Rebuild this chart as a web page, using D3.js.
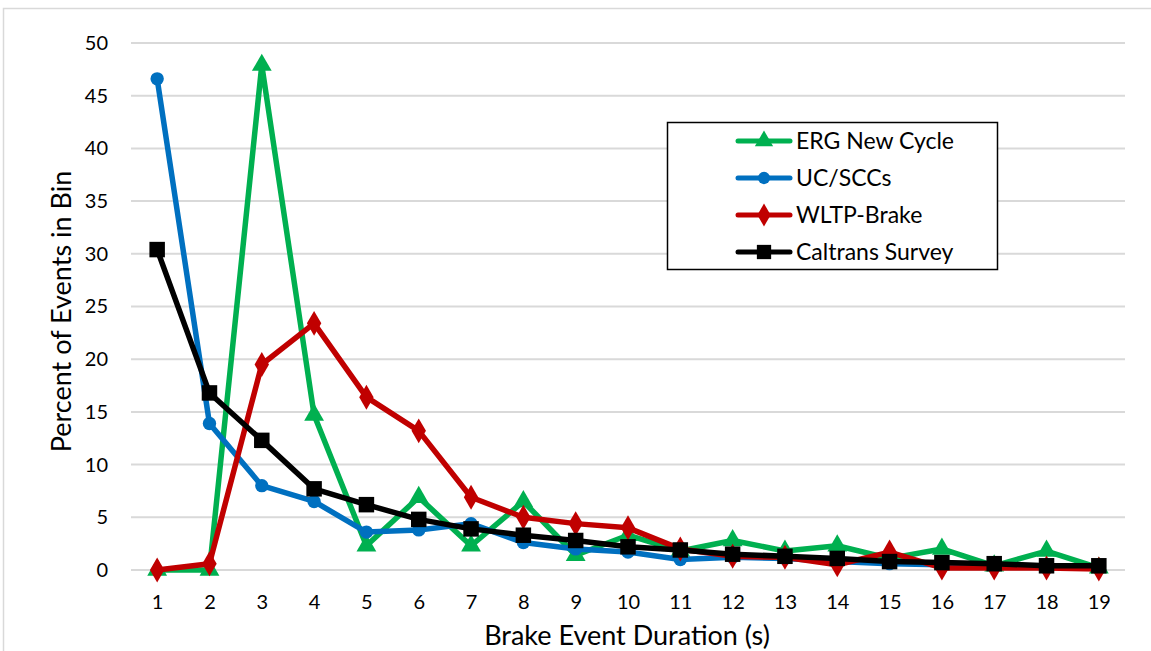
<!DOCTYPE html>
<html><head><meta charset="utf-8">
<script src="https://cdn.jsdelivr.net/npm/d3@7"></script>
<style>body{margin:0;background:#fff;}svg{display:block;font-family:Lato,"Open Sans",sans-serif;}</style>
</head><body><svg id="c" width="1151" height="651"></svg>
<script>
const categories = [1,2,3,4,5,6,7,8,9,10,11,12,13,14,15,16,17,18,19];
const ergNewCycle = [0,0,47.9,14.7,2.3,6.9,2.3,6.5,1.4,3.3,1.8,2.8,1.8,2.3,1.1,2.0,0.4,1.8,0.2];
const ucSCCs      = [46.6,13.9,8.0,6.5,3.6,3.8,4.4,2.6,2.0,1.7,1.0,1.2,1.1,0.8,0.6,0.5,0.4,0.3,0.3];
const wltpBrake   = [0,0.6,19.5,23.4,16.4,13.2,6.9,5.0,4.4,4.0,2.0,1.3,1.2,0.5,1.7,0.2,0.2,0.2,0.1];
const caltrans    = [30.4,16.8,12.3,7.7,6.2,4.8,3.9,3.3,2.8,2.2,1.9,1.5,1.3,1.1,0.8,0.7,0.6,0.4,0.4];
const yTicks = [0,5,10,15,20,25,30,35,40,45,50];
const seriesNames = ["ERG New Cycle","UC/SCCs","WLTP-Brake","Caltrans Survey"];
const seriesColors = ["#00b050","#0070c0","#c00000","#000000"];
const seriesSymbols = [d3.symbolTriangle, d3.symbolCircle, d3.symbolDiamond, d3.symbolSquare];
const seriesData = [ergNewCycle, ucSCCs, wltpBrake, caltrans];
const symbolSizes = [170,140,180,240];

const svg = d3.select("#c");
svg.append("path").attr("d","M3.5,651 V8.5 H1151").attr("fill","none").attr("stroke","#d9d9d9").attr("stroke-width",1.5);

const pL=131,pR=1125,pT=43,pB=570;
const x = d3.scalePoint().domain(categories).range([pL,pR]).padding(0.5);
const y = d3.scaleLinear().domain([0,50]).range([pB,pT]);

svg.append("g").selectAll("line").data(yTicks).join("line")
  .attr("x1",pL).attr("x2",pR).attr("y1",d=>y(d)).attr("y2",d=>y(d))
  .attr("stroke","#d9d9d9").attr("stroke-width",2);

const ya = svg.append("g").attr("transform",`translate(${pL},0)`)
  .call(d3.axisLeft(y).tickValues(yTicks).tickSize(0).tickPadding(23));
ya.select(".domain").remove();
ya.selectAll("text").attr("font-size",20).attr("fill","#000").attr("font-family","Lato, 'Open Sans', sans-serif");

const xa = svg.append("g").attr("transform",`translate(0,${pB})`)
  .call(d3.axisBottom(x).tickSize(0));
xa.select(".domain").remove();
xa.selectAll("text").attr("font-size",20).attr("fill","#000").attr("font-family","Lato, 'Open Sans', sans-serif")
  .attr("y",39).attr("dy",0);

svg.append("text").attr("x",(pL+pR)/2 - 1).attr("y",645).attr("text-anchor","middle")
  .attr("font-size",27).text("Brake Event Duration (s)");
svg.append("text").attr("transform",`translate(71,${(pT+pB)/2 + 5}) rotate(-90)`).attr("text-anchor","middle")
  .attr("font-size",27).text("Percent of Events in Bin");

const line = d3.line().x((d,i)=>x(categories[i])).y(d=>y(d));
seriesData.forEach((data,k)=>{
  const g = svg.append("g");
  g.append("path").datum(data).attr("d",line).attr("fill","none")
    .attr("stroke",seriesColors[k]).attr("stroke-width",5.5).attr("stroke-linejoin","round");
  g.selectAll("path.m").data(data).join("path").attr("class","m")
    .attr("transform",(d,i)=>`translate(${x(categories[i])},${y(d)})`)
    .attr("d",d3.symbol().type(seriesSymbols[k]).size(symbolSizes[k]))
    .attr("fill",seriesColors[k]);
});

const lg = svg.append("g");
lg.append("rect").attr("x",667.5).attr("y",122.5).attr("width",330).attr("height",147)
  .attr("fill","#fff").attr("stroke","#000").attr("stroke-width",1.5);
seriesNames.forEach((n,k)=>{
  const yy = 141 + k*37;
  lg.append("line").attr("x1",738).attr("x2",790).attr("y1",yy).attr("y2",yy)
    .attr("stroke",seriesColors[k]).attr("stroke-width",5).attr("stroke-linecap","round");
  lg.append("path").attr("transform",`translate(764,${yy})`)
    .attr("d",d3.symbol().type(seriesSymbols[k]).size(symbolSizes[k]*0.85)).attr("fill",seriesColors[k]);
  lg.append("text").attr("x",796).attr("y",yy).attr("dy","0.36em").attr("font-size",23).text(n);
});
</script></body></html>
